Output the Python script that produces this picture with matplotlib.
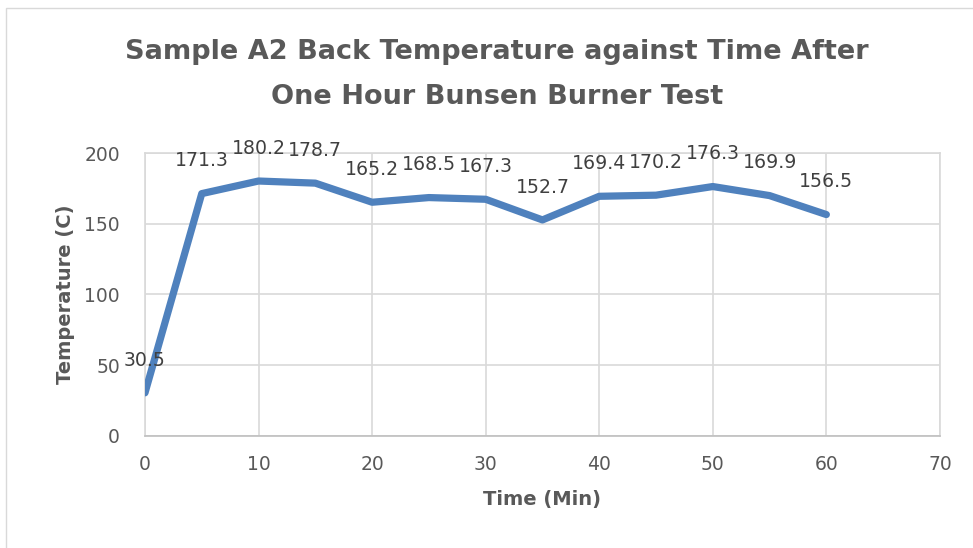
import matplotlib
matplotlib.use('Agg')
import matplotlib.pyplot as plt
from matplotlib.patches import Rectangle

# Data
time_min = [0, 5, 10, 15, 20, 25, 30, 35, 40, 45, 50, 55, 60]
temp_c = [30.5, 171.3, 180.2, 178.7, 165.2, 168.5, 167.3, 152.7, 169.4, 170.2, 176.3, 169.9, 156.5]
x_ticks = [0, 10, 20, 30, 40, 50, 60, 70]
y_ticks = [0, 50, 100, 150, 200]

title = 'Sample A2 Back Temperature against Time After\nOne Hour Bunsen Burner Test'

plt.rcParams['font.family'] = ['DejaVu Sans']

fig = plt.figure(figsize=(9.73, 5.48), dpi=100)
ax = fig.add_axes([0.149, 0.2044, 0.817, 0.5164])

# outer chart border
fig.patches.append(Rectangle((6 / 973, -0.1), 1.2, 1 - 8 / 548 + 0.1, transform=fig.transFigure,
                             fill=False, edgecolor='#d9d9d9', linewidth=1.0))

ax.plot(time_min, temp_c, color='#4f81bd', linewidth=5.2, solid_capstyle='round',
        solid_joinstyle='round', zorder=3)

for t, v in zip(time_min, temp_c):
    ax.annotate(f'{v}', (t, v), xytext=(0, 23.5), textcoords='offset points',
                ha='center', va='center', fontsize=13.6, color='#404040', zorder=4,
                annotation_clip=False)

ax.set_xlim(0, 70)
ax.set_ylim(0, 200)
ax.set_xticks(x_ticks)
ax.set_yticks(y_ticks)
ax.grid(True, color='#d9d9d9', linewidth=1.2)
ax.set_axisbelow(True)
for s in ax.spines.values():
    s.set_color('#d9d9d9')
    s.set_linewidth(1.2)
ax.spines['bottom'].set_color('#bfbfbf')
ax.tick_params(length=0, labelsize=13.5, labelcolor='#595959')
ax.tick_params(axis='y', pad=18)
ax.tick_params(axis='x', pad=14)

ax.set_xlabel('Time (Min)', fontsize=14, fontweight='bold', color='#595959', labelpad=11)
ax.set_ylabel('Temperature (C)', fontsize=14, fontweight='bold', color='#595959', labelpad=7)

fig.text(0.511, 0.864, title, ha='center', va='center', fontsize=19.5, fontweight='bold',
         color='#595959', linespacing=1.95)

fig.savefig('out.png', dpi=100)
